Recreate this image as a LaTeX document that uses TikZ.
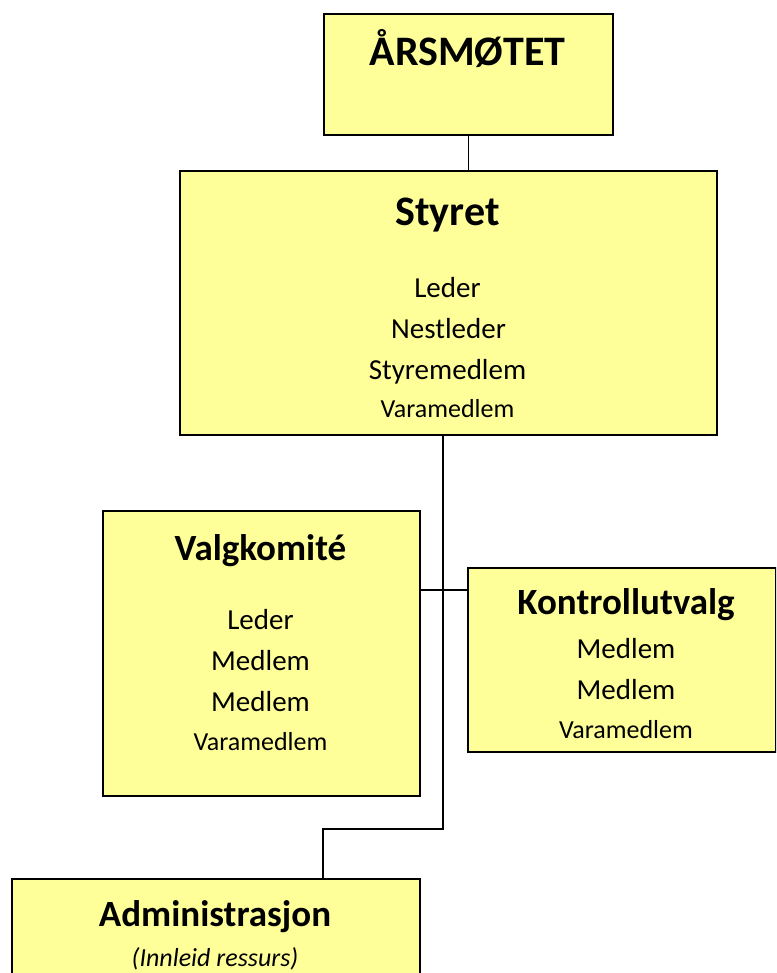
\documentclass[tikz,border=0pt]{standalone}
\usepackage{fontspec}
\setmainfont{Carlito}
\definecolor{boxfill}{HTML}{FFFF99}
\begin{document}
\begin{tikzpicture}[x=1pt,y=-1pt,
  box/.style={draw=black, line width=1.8pt, fill=boxfill, inner sep=0pt, anchor=north west},
  conn/.style={draw=black, line width=1.6pt},
  bigttl/.style={font=\bfseries\fontsize{42}{48}\selectfont, inner sep=0pt, anchor=base},
  ttl/.style={font=\bfseries\fontsize{37}{42}\selectfont, inner sep=0pt, anchor=base},
  item/.style={font=\fontsize{29}{34}\selectfont, inner sep=0pt, anchor=base},
  sitem/.style={font=\fontsize{26}{30}\selectfont, inner sep=0pt, anchor=base},
  iitem/.style={font=\itshape\fontsize{26}{30}\selectfont, inner sep=0pt, anchor=base}]
\useasboundingbox (0,0) rectangle (776,973);
\clip (0,0) rectangle (776,973);
\fill[white] (0,0) rectangle (776,973);

% boxes
\node[box, minimum width=289pt, minimum height=121pt] (aars) at (323,13) {};
\node[box, minimum width=537pt, minimum height=264pt] (styret) at (179,170) {};
\node[box, minimum width=317pt, minimum height=285pt] (valg) at (102,510) {};
\node[box, minimum width=308pt, minimum height=184pt] (kontroll) at (467,567) {};
\node[box, minimum width=408pt, minimum height=140pt] (adm) at (11,878) {};

% connector points
\coordinate (sb) at (443,434);
\coordinate (bend1) at (443,829);
\coordinate (bend2) at (323,829);
\coordinate (vr) at (419,590);
\coordinate (kl) at (467,590);

\draw[conn] (aars.south) -- (styret.north -| aars.south);
\draw[conn] (sb) -- (bend1) -- (bend2) -- (bend2 |- adm.north);
\draw[conn] (vr) -- (kl);

% texts
\node[bigttl] (t1) at (467.5,66) {ÅRSMØTET};
\node[bigttl] (t2) at (447.5,226) {Styret};
\node[item] (s1) at (447.5,297) {Leder};
\node[item] (s2) at (448.5,338) {Nestleder};
\node[item] (s3) at (447.5,379) {Styremedlem};
\node[sitem] (s4) at (447.5,417) {Varamedlem};

\node[ttl] (t3) at (260.5,560) {Valgkomité};
\node[item] (v1) at (260.5,629) {Leder};
\node[item] (v2) at (260.5,670) {Medlem};
\node[item] (v3) at (260.5,711) {Medlem};
\node[sitem] (v4) at (260.5,750) {Varamedlem};

\node[ttl] (t4) at (626,614) {Kontrollutvalg};
\node[item] (k1) at (626,658) {Medlem};
\node[item] (k2) at (626,699) {Medlem};
\node[sitem] (k3) at (626,738) {Varamedlem};

\node[ttl] (t5) at (215,926) {Administrasjon};
\node[iitem] (a1) at (215,966) {(Innleid ressurs)};
\end{tikzpicture}
\end{document}
